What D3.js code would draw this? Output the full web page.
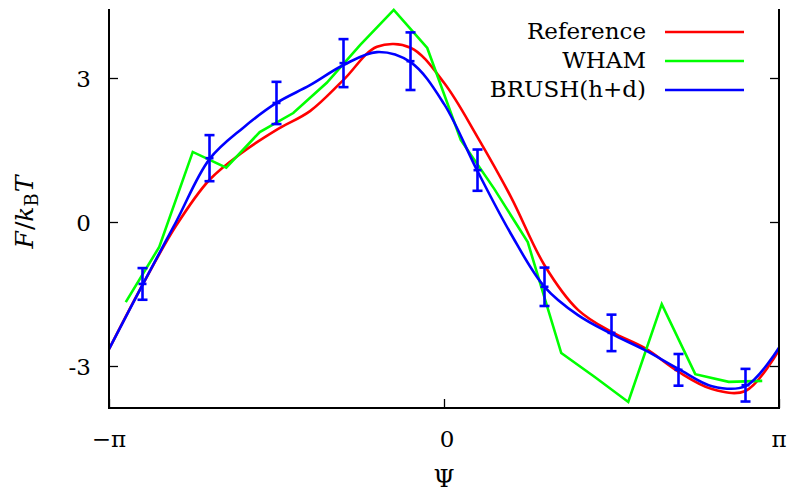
<!DOCTYPE html>
<html>
<head>
<meta charset="utf-8">
<script src="https://cdn.jsdelivr.net/npm/d3@7"></script>
<style>
  html, body { margin: 0; padding: 0; background: #fff; }
</style>
</head>
<body>
<svg id="chart" width="788" height="492"></svg>
<script>
const PI = Math.PI;

// Smooth curves sampled every 0.1π from -π to π
const curveX = d3.range(21).map(i => -PI + i * 0.1 * PI);
const referenceY = [-2.65, -1.31, -0.08, 0.88, 1.46, 1.92, 2.31, 2.96, 3.65, 3.63, 2.90, 1.77, 0.52, -0.90, -1.83, -2.29, -2.63, -3.12, -3.48, -3.52, -2.67];
const brushY     = [-2.65, -1.31, 0.00, 1.31, 1.96, 2.48, 2.85, 3.27, 3.54, 3.33, 2.46, 1.06, -0.25, -1.35, -1.94, -2.33, -2.67, -3.06, -3.42, -3.42, -2.62];

// WHAM histogram bins at -0.95π + k·0.1π
const whamX = d3.range(20).map(i => -0.95 * PI + i * 0.1 * PI);
const whamY = [-1.67, -0.52, 1.46, 1.13, 1.875, 2.27, 2.90, 3.69, 4.42, 3.625, 1.71, 0.69, -0.42, -2.73, -3.23, -3.75, -1.71, -3.17, -3.33, -3.31];

// BRUSH(h+d) points with error bars at -0.9π + k·0.2π
const errX = d3.range(10).map(i => -0.9 * PI + i * 0.2 * PI);
const errY = [-1.29, 1.33, 2.48, 3.31, 3.35, 1.08, -1.35, -2.31, -3.08, -3.40];
const errE = [0.33, 0.48, 0.44, 0.50, 0.60, 0.43, 0.40, 0.38, 0.33, 0.34];

const yTicks = [-3, 0, 3];
const yTickLabels = ["-3", "0", "3"];
const xTicks = [-PI, 0, PI];
const xTickLabels = ["\u2212\u03c0", "0", "\u03c0"];

const legendLabels = ["Reference", "WHAM", "BRUSH(h+d)"];
const legendColors = ["#ff0000", "#00ff00", "#0000ff"];

const FONT = "DejaVu Serif";

const svg = d3.select("#chart");
const L = 109, R = 779, T = 9, B = 408;
const x = d3.scaleLinear().domain([-PI, PI]).range([L, R]);
const y = d3.scaleLinear().domain([-3.875, 4.4375]).range([B, T]);

// Curves
const smooth = d3.line().x(d => x(d[0])).y(d => y(d[1])).curve(d3.curveCatmullRom.alpha(0.5));
const straight = d3.line().x(d => x(d[0])).y(d => y(d[1]));

svg.append("path").datum(curveX.map((v, i) => [v, referenceY[i]]))
  .attr("d", smooth).attr("fill", "none").attr("stroke", legendColors[0]).attr("stroke-width", 2.6);
svg.append("path").datum(whamX.map((v, i) => [v, whamY[i]]))
  .attr("d", straight).attr("fill", "none").attr("stroke", legendColors[1]).attr("stroke-width", 2.6)
  .attr("stroke-linejoin", "miter");
svg.append("path").datum(curveX.map((v, i) => [v, brushY[i]]))
  .attr("d", smooth).attr("fill", "none").attr("stroke", legendColors[2]).attr("stroke-width", 2.6);

// Error bars
const eb = svg.append("g").attr("stroke", legendColors[2]).attr("stroke-width", 2.6);
errX.forEach((xv, i) => {
  const cx = x(xv), y1 = y(errY[i] + errE[i]), y2 = y(errY[i] - errE[i]);
  eb.append("line").attr("x1", cx).attr("x2", cx).attr("y1", y1).attr("y2", y2);
  eb.append("line").attr("x1", cx - 5).attr("x2", cx + 5).attr("y1", y1).attr("y2", y1);
  eb.append("line").attr("x1", cx - 5).attr("x2", cx + 5).attr("y1", y2).attr("y2", y2);
  eb.append("line").attr("x1", cx - 4).attr("x2", cx + 4).attr("y1", y(errY[i])).attr("y2", y(errY[i]));
});

// Axes (inward ticks)
const axG = svg.append("g");
axG.append("g").attr("transform", `translate(${L},0)`)
  .call(d3.axisRight(y).tickValues(yTicks).tickSize(9).tickFormat(""));
axG.append("g").attr("transform", `translate(${R},0)`)
  .call(d3.axisLeft(y).tickValues(yTicks).tickSize(9).tickFormat(""));
axG.append("g").attr("transform", `translate(0,${B})`)
  .call(d3.axisTop(x).tickValues(xTicks).tickSize(9).tickFormat(""));
axG.selectAll(".domain").remove();
axG.selectAll("line").attr("stroke", "#000").attr("stroke-width", 1.3);
// border: left, bottom, right
svg.append("path")
  .attr("d", `M${L},${T}V${B}H${R}V${T}`)
  .attr("fill", "none").attr("stroke", "#000").attr("stroke-width", 2);

function txt(xp, yp, s, anchor, size) {
  return svg.append("text").attr("x", xp).attr("y", yp)
    .attr("text-anchor", anchor).attr("font-size", size)
    .style("font-family", FONT).attr("fill", "#000").text(s);
}

// Tick labels
yTicks.forEach((v, i) => txt(91, y(v) + 8.5, yTickLabels[i], "end", 23));
xTicks.forEach((v, i) => txt(x(v) + (i === 1 ? 3 : 0), 447, xTickLabels[i], "middle", 23));

// Axis titles
txt(444, 487, "\u03a8", "middle", 24);
const yt = svg.append("text").attr("transform", "translate(33,212) rotate(-90)")
  .attr("text-anchor", "middle").attr("font-size", 25).style("font-family", FONT).attr("fill", "#000");
yt.append("tspan").attr("font-style", "italic").text("F");
yt.append("tspan").attr("dx", 1).text("/");
yt.append("tspan").attr("font-style", "italic").text("k");
yt.append("tspan").attr("font-size", 18).attr("dy", 5).text("B");
yt.append("tspan").attr("font-style", "italic").attr("dx", 1).attr("dy", -5).text("T");

// Legend
legendLabels.forEach((lab, i) => {
  const ly = 32 + i * 29;
  txt(646, ly + 7, lab, "end", 23);
  svg.append("line").attr("x1", 665).attr("x2", 744).attr("y1", ly).attr("y2", ly)
    .attr("stroke", legendColors[i]).attr("stroke-width", 2.6);
});
</script>
</body>
</html>
